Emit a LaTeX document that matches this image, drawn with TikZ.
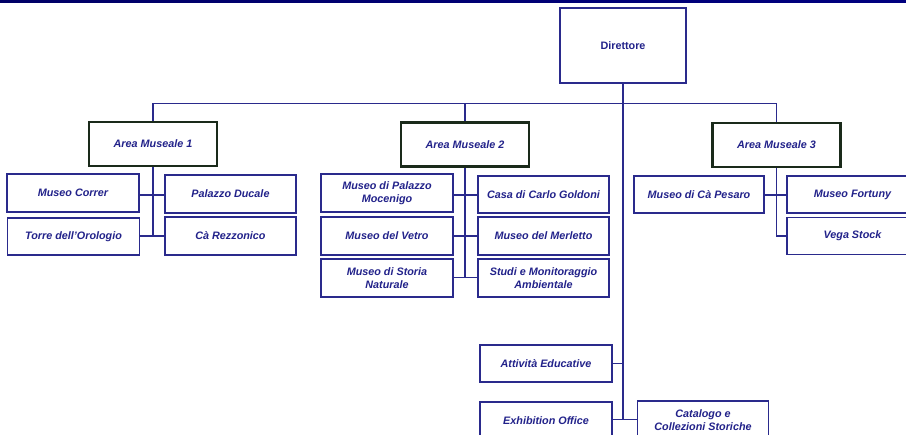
\documentclass[tikz,border=0pt]{standalone}
\usepackage{fontspec}
\setmainfont{Liberation Sans}
\definecolor{txtblue}{HTML}{22228A}
\definecolor{boxblue}{HTML}{2A2A8C}
\definecolor{linblue}{HTML}{2A2A8C}
\definecolor{areabord}{HTML}{1A2A1A}
\begin{document}
\begin{tikzpicture}[x=1pt,y=-1pt,
  base/.style={rectangle,draw=boxblue,line width=1.4pt,fill=white,text=txtblue,align=center,
    font=\fontsize{10.8}{13}\selectfont\bfseries\itshape,inner sep=1pt},
  unitbox/.style={base,minimum width=131pt,minimum height=37pt},
  areabox/.style={base,draw=areabord,line width=2.4pt,minimum width=128pt,minimum height=44pt},
  dirbox/.style={base,font=\fontsize{10.8}{13}\selectfont\bfseries,minimum width=126pt,minimum height=75pt},
  conn/.style={draw=linblue,line width=1.5pt}]
\useasboundingbox (0,0) rectangle (906,435);
\clip (0,0) rectangle (906,435);
\shade[left color=blue!40!black,middle color=blue!55!white,right color=blue!50!black] (0,0) rectangle (906,3);

\node[dirbox] (dir) at (623,45.5) {Direttore};
\node[areabox] (a1) at (153,144) {Area Museale 1};
\node[areabox] (a2) at (465,144.5) {Area Museale 2};
\node[areabox] (a3) at (776.5,145) {Area Museale 3};

\node[unitbox,minimum width=132pt,minimum height=38pt] (correr) at (73,193) {Museo Correr};
\node[unitbox,minimum height=38pt] (ducale) at (230.5,194) {Palazzo Ducale};
\node[unitbox,minimum width=132pt] (torre) at (73.5,236.5) {Torre dell'Orologio};
\node[unitbox,minimum height=38pt] (rezz) at (230.5,236) {Cà Rezzonico};

\node[unitbox,minimum width=132pt,minimum height=38pt] (moce) at (387,193) {Museo di Palazzo\\Mocenigo};
\node[unitbox] (gold) at (543.5,194.5) {Casa di Carlo Goldoni};
\node[unitbox,minimum width=132pt,minimum height=38pt] (vetro) at (387,236) {Museo del Vetro};
\node[unitbox,minimum height=38pt] (merl) at (543.5,236) {Museo del Merletto};
\node[unitbox,minimum width=132pt,minimum height=38pt] (storia) at (387,278) {Museo di Storia\\Naturale};
\node[unitbox,minimum height=38pt] (studi) at (543.5,278) {Studi e Monitoraggio\\Ambientale};

\node[unitbox,minimum width=130pt] (pesaro) at (699,194.5) {Museo di Cà Pesaro};
\node[unitbox] (fort) at (852.5,194.5) {Museo Fortuny};
\node[unitbox] (vega) at (852.5,236) {Vega Stock};

\node[unitbox,minimum width=132pt] (edu) at (546,363.5) {Attività Educative};
\node[unitbox,minimum width=132pt,minimum height=38pt] (exh) at (546,421) {Exhibition Office};
\node[unitbox,minimum height=38pt] (cat) at (703,420) {Catalogo e\\Collezioni Storiche};

\coordinate (bus) at (0,103.5);
\coordinate (mainend) at (623,419.5);
\coordinate (v1) at (153,236);
\coordinate (v2) at (465,277.5);

% bus
\draw[conn] (a1.north) -- (a1.north |- bus) -- (a3.north |- bus) -- (a3.north);
\draw[conn] (a2.north) -- (a2.north |- bus);
\draw[conn] (dir.south) -- (mainend);
% area 1
\draw[conn] (a1.south) -- (v1);
\draw[conn] (correr.east |- 0,195) -- (ducale.west |- 0,195);
\draw[conn] (torre.east |- v1) -- (rezz.west |- v1);
% area 2
\draw[conn] (a2.south) -- (v2);
\draw[conn] (moce.east |- 0,195) -- (gold.west |- 0,195);
\draw[conn] (vetro.east |- 0,236) -- (merl.west |- 0,236);
\draw[conn] (storia.east |- v2) -- (studi.west |- v2);
% area 3
\draw[conn] (pesaro.east |- 0,195) -- (fort.west |- 0,195);
\draw[conn] (a3.south) -- (a3.south |- vega.west) -- (vega.west);
% bottom
\draw[conn] (edu.east) -- (edu.east -| mainend);
\draw[conn] (exh.east |- mainend) -- (cat.west |- mainend);
\end{tikzpicture}
\end{document}
